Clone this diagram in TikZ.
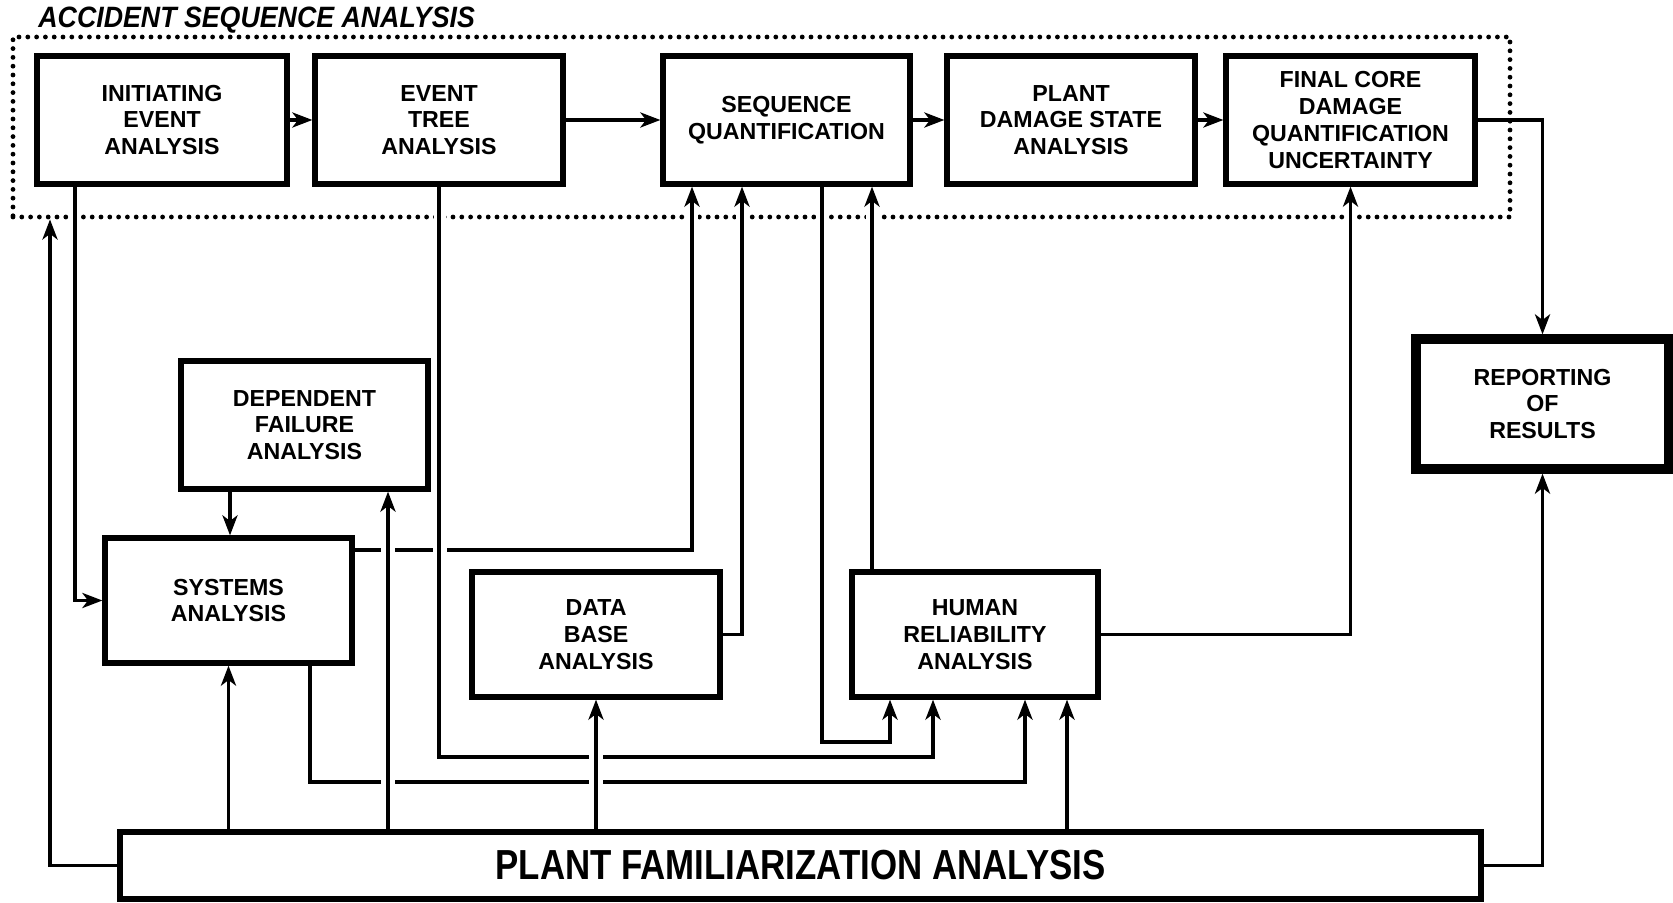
\documentclass[tikz,border=0pt]{standalone}
\usepackage{fontspec}
\setmainfont{Liberation Sans}
\newfontfamily\condfont[FakeStretch=0.83]{Liberation Sans}
\newfontfamily\titlefont[FakeStretch=0.91]{Liberation Sans}
\usetikzlibrary{arrows.meta,fit}
\begin{document}
\begin{tikzpicture}[x=0.5pt,y=-0.5pt,
  box/.style={draw, line width=2.6pt, inner sep=0pt, align=center,
    minimum width=124pt, minimum height=64pt,
    font=\fontsize{11.6}{13.4}\selectfont\bfseries},
  thickbox/.style={box, line width=4.6pt},
  bigbox/.style={box, font=\condfont\fontsize{21}{25}\selectfont\bfseries},
  dotbox/.style={draw, inner sep=0pt, line width=2.4pt, line cap=round,
    dash pattern=on 0pt off 4.4pt},
  arr/.style={line width=1.8pt, -{Stealth[length=10pt,width=7.5pt,inset=2.8pt]}},
  gapfill/.style={fill=white, draw=none}]
\useasboundingbox (0,0) rectangle (1673,903);

% frame and title
\node[dotbox, fit={(13,37) (1510,217)}] (asa) {};
\node[anchor=west, inner sep=0pt,
  font=\titlefont\fontsize{14.7}{16}\selectfont\bfseries\itshape] (title) at (38,20)
  {ACCIDENT SEQUENCE ANALYSIS};

% boxes
\node[box, minimum width=125pt] (init) at (162,120) {INITIATING\\EVENT\\ANALYSIS};
\node[box] (event) at (439,120) {EVENT\\TREE\\ANALYSIS};
\node[box, minimum width=123.5pt] (seq) at (786.5,120) {SEQUENCE\\QUANTIFICATION};
\node[box] (pds) at (1071,120) {PLANT\\DAMAGE STATE\\ANALYSIS};
\node[box, minimum width=124.5pt] (final) at (1350.5,120) {FINAL CORE\\DAMAGE\\QUANTIFICATION\\UNCERTAINTY};
\node[thickbox, minimum width=126.5pt, minimum height=65pt] (rep) at (1542.5,404) {REPORTING\\OF\\RESULTS};
\node[box, minimum width=123.5pt] (dep) at (304.5,425) {DEPENDENT\\FAILURE\\ANALYSIS};
\node[box, minimum width=123.5pt, minimum height=62.5pt] (sys) at (228.5,600.5) {SYSTEMS\\ANALYSIS};
\node[box, minimum height=62.5pt] (db) at (596,634.5) {DATA\\BASE\\ANALYSIS};
\node[box, minimum width=123pt, minimum height=62.5pt] (hra) at (975,634.5) {HUMAN\\RELIABILITY\\ANALYSIS};
\node[bigbox, minimum width=680.5pt, minimum height=33.5pt] (pfa) at (800.5,865.5) {PLANT FAMILIARIZATION ANALYSIS};

% gaps in the dotted frame where lines cross it
\foreach \gx in {75,440,692,742,822,872,1351}
  \fill[gapfill] (\gx-6,210) rectangle (\gx+6,224);

% top row
\draw[arr] (init.east) -- (event.west);
\draw[arr] (event.east) -- (seq.west);
\draw[arr] (seq.east) -- (pds.west);
\draw[arr] (pds.east) -- (final.west);
\draw[arr] (final.east) -| (rep.north);

% other connectors
\draw[arr] (init.south -| 75,0) |- (sys.west);
\draw[arr] (dep.south -| 230,0) -- (sys.north -| 230,0);
\draw[arr] (db.east) -| (seq.south -| 742,0);
\draw[arr] (seq.south -| 822,0) -- (822,742) -| (hra.south -| 890,0);
\draw[arr] (hra.north -| 872,0) -- (seq.south -| 872,0);
\draw[arr] (hra.east) -| (final.south);
\draw[arr] (pfa.north -| sys.south) -- (sys.south);
\draw[arr] (pfa.north -| 1067,0) -- (hra.south -| 1067,0);
\draw[arr] (pfa.west) -| (asa.south -| 50,0);
\draw[arr] (pfa.east) -| (rep.south);

% crossing connectors (horizontal lines broken under vertical ones)
\draw[arr] (sys.east |- 0,550) -| (seq.south -| 692,0);
\foreach \gx in {388,440}
  \fill[gapfill] (\gx-7,544) rectangle (\gx+7,556);
\draw[arr] (event.south) -- (event.south |- 0,757) -| (hra.south -| 933,0);
\draw[arr] (sys.south -| 310,0) -- (310,782) -| (hra.south -| 1025,0);
\fill[gapfill] (589,751) rectangle (603,763);
\fill[gapfill] (381,776) rectangle (395,788);
\fill[gapfill] (589,776) rectangle (603,788);
\draw[arr] (pfa.north -| 388,0) -- (dep.south -| 388,0);
\draw[arr] (pfa.north -| db.south) -- (db.south);
\end{tikzpicture}
\end{document}
